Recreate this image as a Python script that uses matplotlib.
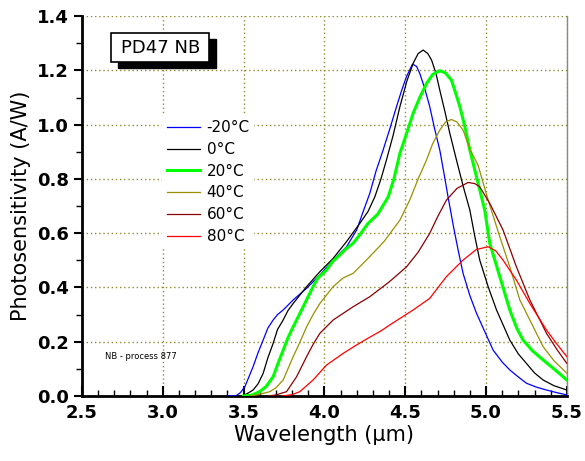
import matplotlib
matplotlib.use("Agg")
import matplotlib.pyplot as plt
from matplotlib.patches import Rectangle
from matplotlib.ticker import MultipleLocator

# spectral responsivity curves of PD47 NB at several temperatures
x_m20 = [3.40, 3.45, 3.48, 3.508, 3.559, 3.59, 3.621, 3.65, 3.683, 3.71, 3.745, 3.807, 3.89, 3.972,
         4.054, 4.137, 4.20, 4.24, 4.281, 4.32, 4.363, 4.405, 4.446, 4.48, 4.508, 4.545, 4.57, 4.59,
         4.62, 4.652, 4.68, 4.714, 4.74, 4.765, 4.80, 4.83, 4.858, 4.90, 4.941, 4.99, 5.044, 5.10,
         5.147, 5.20, 5.25, 5.31, 5.374, 5.44, 5.5]
y_m20 = [0.0, 0.0, 0.012, 0.034, 0.108, 0.16, 0.206, 0.25, 0.28, 0.30, 0.317, 0.354, 0.397, 0.446,
         0.501, 0.55, 0.612, 0.68, 0.747, 0.83, 0.906, 0.985, 1.066, 1.13, 1.177, 1.223, 1.215, 1.189,
         1.135, 1.066, 0.99, 0.906, 0.82, 0.734, 0.62, 0.53, 0.452, 0.37, 0.305, 0.24, 0.169, 0.125,
         0.096, 0.07, 0.047, 0.033, 0.022, 0.012, 0.004]

x_0 = [3.46, 3.49, 3.52, 3.559, 3.59, 3.621, 3.65, 3.683, 3.71, 3.745, 3.775, 3.807, 3.89, 3.972,
       4.054, 4.137, 4.219, 4.27, 4.312, 4.35, 4.384, 4.425, 4.467, 4.51, 4.549, 4.58, 4.611, 4.64,
       4.663, 4.69, 4.714, 4.745, 4.776, 4.817, 4.86, 4.90, 4.93, 4.961, 5.013, 5.065, 5.147, 5.20,
       5.25, 5.30, 5.353, 5.42, 5.5]
y_0 = [0.0, 0.0, 0.008, 0.022, 0.045, 0.083, 0.14, 0.194, 0.245, 0.28, 0.315, 0.341, 0.403, 0.458,
       0.507, 0.569, 0.636, 0.68, 0.734, 0.80, 0.87, 0.96, 1.066, 1.16, 1.226, 1.262, 1.275, 1.262,
       1.238, 1.19, 1.127, 1.05, 0.968, 0.87, 0.77, 0.685, 0.59, 0.501, 0.403, 0.317, 0.206, 0.155,
       0.12, 0.085, 0.059, 0.038, 0.022]

x_20 = [3.50, 3.55, 3.60, 3.64, 3.683, 3.71, 3.745, 3.775, 3.807, 3.869, 3.93, 3.96, 4.013, 4.05,
        4.096, 4.135, 4.178, 4.22, 4.27, 4.33, 4.395, 4.43, 4.467, 4.51, 4.549, 4.59, 4.632, 4.67,
        4.714, 4.75, 4.786, 4.81, 4.838, 4.87, 4.90, 4.951, 4.992, 5.023, 5.085, 5.147, 5.19, 5.229,
        5.29, 5.353, 5.43, 5.5]
y_20 = [0.0, 0.003, 0.016, 0.035, 0.071, 0.115, 0.169, 0.215, 0.255, 0.329, 0.403, 0.435, 0.464, 0.495,
        0.52, 0.543, 0.563, 0.595, 0.636, 0.67, 0.734, 0.80, 0.894, 0.97, 1.042, 1.10, 1.152, 1.185,
        1.199, 1.19, 1.164, 1.12, 1.066, 0.99, 0.906, 0.784, 0.685, 0.563, 0.44, 0.317, 0.25, 0.206,
        0.165, 0.133, 0.095, 0.059]

x_40 = [3.54, 3.59, 3.663, 3.70, 3.745, 3.807, 3.85, 3.89, 3.93, 3.972, 4.054, 4.116, 4.178, 4.27,
        4.37, 4.467, 4.528, 4.58, 4.632, 4.67, 4.714, 4.75, 4.786, 4.82, 4.858, 4.90, 4.951, 5.013,
        5.085, 5.147, 5.209, 5.271, 5.353, 5.42, 5.5]
y_40 = [0.0, 0.005, 0.016, 0.03, 0.059, 0.145, 0.20, 0.255, 0.30, 0.341, 0.403, 0.435, 0.452, 0.507,
        0.57, 0.648, 0.722, 0.80, 0.87, 0.93, 0.98, 1.01, 1.019, 1.01, 0.98, 0.91, 0.85, 0.722,
        0.587, 0.476, 0.354, 0.28, 0.182, 0.13, 0.084]

x_60 = [3.66, 3.70, 3.766, 3.828, 3.89, 3.93, 3.972, 4.054, 4.178, 4.281, 4.40, 4.508, 4.58, 4.652,
        4.70, 4.755, 4.82, 4.889, 4.93, 4.961, 5.023, 5.105, 5.188, 5.271, 5.374, 5.44, 5.5]
y_60 = [0.0, 0.004, 0.016, 0.071, 0.145, 0.19, 0.231, 0.28, 0.329, 0.366, 0.42, 0.476, 0.53, 0.60,
        0.66, 0.722, 0.765, 0.787, 0.783, 0.771, 0.71, 0.612, 0.476, 0.354, 0.231, 0.17, 0.12]

x_80 = [3.74, 3.80, 3.848, 3.93, 4.013, 4.116, 4.199, 4.27, 4.35, 4.405, 4.549, 4.652, 4.755, 4.858,
        4.94, 5.013, 5.06, 5.105, 5.188, 5.271, 5.374, 5.44, 5.5]
y_80 = [0.0, 0.005, 0.016, 0.059, 0.114, 0.157, 0.188, 0.213, 0.24, 0.262, 0.317, 0.36, 0.44, 0.501,
        0.54, 0.55, 0.535, 0.501, 0.427, 0.341, 0.243, 0.19, 0.145]

labels = ['-20°C', '0°C', '20°C', '40°C', '60°C', '80°C']
colors = ['#0000ff', '#000000', '#00ff00', '#999000', '#8b0000', '#ff0000']
widths = [0.9, 0.9, 2.2, 0.9, 0.9, 0.9]

fig = plt.figure(figsize=(5.85, 4.61), dpi=100)
ax = fig.add_axes([0.140, 0.141, 0.829, 0.824])

series = [(x_m20, y_m20), (x_0, y_0), (x_20, y_20), (x_40, y_40), (x_60, y_60), (x_80, y_80)]
for (xs, ys), lab, c, lw in zip(series, labels, colors, widths):
    ax.plot(xs, ys, color=c, lw=lw, label=lab, zorder=3)

ax.set_xlim(2.5, 5.5)
ax.set_ylim(0, 1.4)
ax.xaxis.set_major_locator(MultipleLocator(0.5))
ax.xaxis.set_minor_locator(MultipleLocator(0.1))
ax.yaxis.set_major_locator(MultipleLocator(0.2))
ax.yaxis.set_minor_locator(MultipleLocator(0.1))
ax.xaxis.set_major_formatter(plt.FormatStrFormatter('%.1f'))
ax.yaxis.set_major_formatter(plt.FormatStrFormatter('%.1f'))

ax.tick_params(axis='x', which='major', direction='in', length=7, width=1.5, labelsize=13, pad=6)
ax.tick_params(axis='x', which='minor', direction='in', length=4, width=1)
ax.tick_params(axis='y', which='major', direction='out', length=6, width=1.5, labelsize=13)
ax.tick_params(axis='y', which='minor', direction='out', length=4, width=1)
for t in ax.get_xticklabels() + ax.get_yticklabels():
    t.set_fontweight('bold')

ax.grid(True, which='major', color='#8c8c30', linestyle=(0, (1, 2)), linewidth=1)

ax.spines['top'].set_visible(False)
ax.spines['right'].set_color('#888888')
ax.spines['right'].set_linewidth(1)
ax.spines['left'].set_linewidth(2)
ax.spines['bottom'].set_linewidth(2)

ax.set_xlabel('Wavelength (μm)', fontsize=15, labelpad=2)
ax.set_ylabel('Photosensitivity (A/W)', fontsize=15, labelpad=4)

leg = ax.legend(loc='upper left', bbox_to_anchor=(0.15, 0.758), frameon=True, fontsize=11,
                handlelength=2.2, labelspacing=0.44, borderpad=0.3, handletextpad=0.4)
leg.get_frame().set_edgecolor('none')
leg.get_frame().set_facecolor('white')
leg.get_frame().set_alpha(1)
leg.get_frame().set_boxstyle('square', pad=0)

# title box with drop shadow
ax.add_patch(Rectangle((0.074, 0.863), 0.202, 0.077, transform=ax.transAxes,
                       facecolor='black', edgecolor='black', zorder=5, clip_on=False))
ax.add_patch(Rectangle((0.061, 0.879), 0.202, 0.077, transform=ax.transAxes,
                       facecolor='white', edgecolor='black', lw=1.2, zorder=6, clip_on=False))
ax.text(0.162, 0.917, 'PD47 NB', transform=ax.transAxes, ha='center', va='center',
        fontsize=13, zorder=7)

ax.text(0.047, 0.105, 'NB - process 877', transform=ax.transAxes, ha='left', va='center', fontsize=6)

fig.savefig('out.png', dpi=100)
